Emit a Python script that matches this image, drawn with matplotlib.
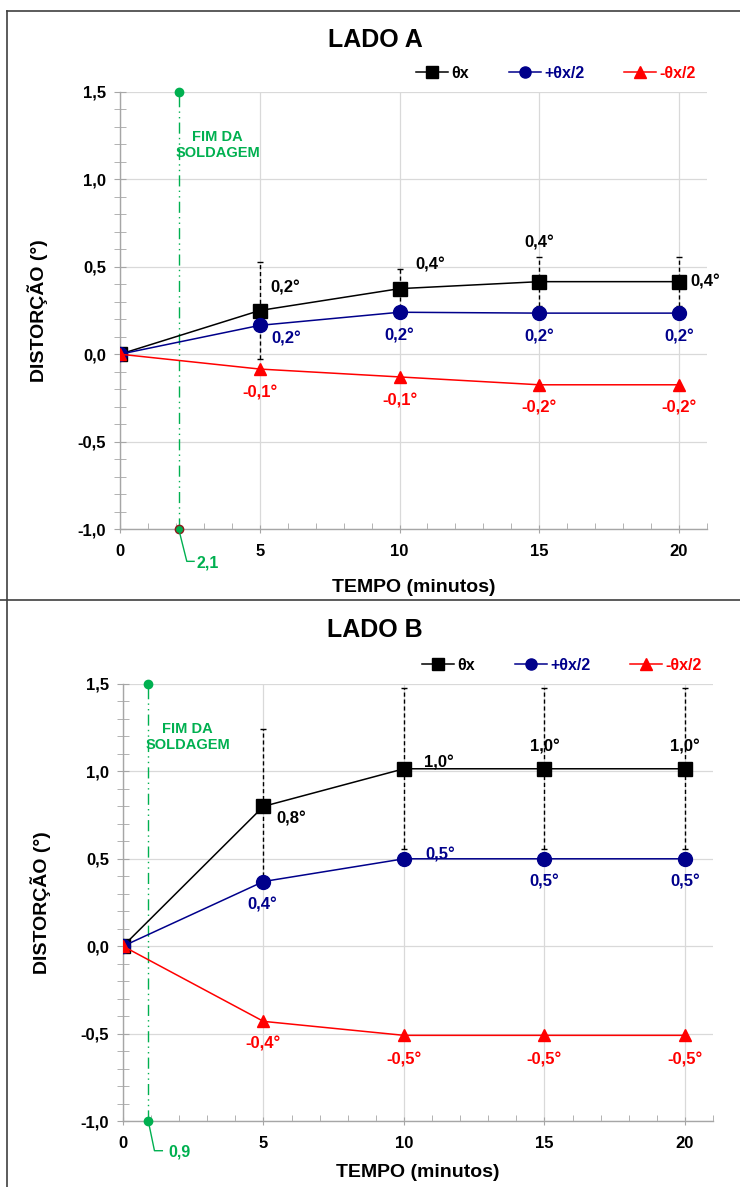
import matplotlib
matplotlib.use("Agg")
import matplotlib.pyplot as plt
from matplotlib.ticker import MultipleLocator, FuncFormatter
from matplotlib.lines import Line2D

plt.rcParams['font.family'] = ['Liberation Sans', 'DejaVu Sans']
plt.rcParams['font.weight'] = 'bold'

# ---------------- data ----------------
tempo = [0, 5, 10, 15, 20]

# LADO A
a_theta = [0.0, 0.25, 0.375, 0.415, 0.415]
a_theta_err = [0.0, 0.275, 0.11, 0.14, 0.14]
a_plus = [0.0, 0.165, 0.24, 0.235, 0.235]
a_minus = [0.0, -0.085, -0.13, -0.175, -0.175]
a_theta_lbl = ["", "0,2°", "0,4°", "0,4°", "0,4°"]
a_plus_lbl = ["", "0,2°", "0,2°", "0,2°", "0,2°"]
a_minus_lbl = ["", "-0,1°", "-0,1°", "-0,2°", "-0,2°"]
a_fim = 2.1
a_fim_lbl = "2,1"

# LADO B
b_theta = [0.0, 0.80, 1.015, 1.015, 1.015]
b_theta_err = [0.0, 0.44, 0.46, 0.46, 0.46]
b_plus = [0.0, 0.37, 0.50, 0.50, 0.50]
b_minus = [0.0, -0.43, -0.51, -0.51, -0.51]
b_theta_lbl = ["", "0,8°", "1,0°", "1,0°", "1,0°"]
b_plus_lbl = ["", "0,4°", "0,5°", "0,5°", "0,5°"]
b_minus_lbl = ["", "-0,4°", "-0,5°", "-0,5°", "-0,5°"]
b_fim = 0.9
b_fim_lbl = "0,9"

series_names = ["θx", "+θx/2", "-θx/2"]
titles = ["LADO A", "LADO B"]

BLACK = "#000000"
BLUE = "#00008B"
RED = "#FF0000"
GREEN = "#00B050"
GRID = "#D9D9D9"
AXC = "#A6A6A6"

W, H = 740, 1187
fig = plt.figure(figsize=(W / 100, H / 100), dpi=100)

def fx(px):
    return px / W

def fy(py):
    return 1 - py / H

# border lines
fig.add_artist(Line2D([fx(7), fx(7)], [fy(11), fy(1187)], color="#404040", lw=1.2))
fig.add_artist(Line2D([fx(7), fx(740)], [fy(11), fy(11)], color="#404040", lw=1.2))
fig.add_artist(Line2D([fx(0), fx(740)], [fy(600), fy(600)], color="#404040", lw=1.2))

def comma(v, pos):
    return ("%.1f" % v).replace(".", ",")

def make_panel(rect, title, title_y, theta, err, plus, minus, tl, pl, ml,
               fim, fim_lbl, offsets, edge_dark, lead, xpad):
    ax = fig.add_axes(rect)
    ax.set_xlim(0, 21)
    ax.set_ylim(-1.0, 1.5)
    ax.xaxis.set_major_locator(MultipleLocator(5))
    ax.xaxis.set_minor_locator(MultipleLocator(1))
    ax.yaxis.set_major_locator(MultipleLocator(0.5))
    ax.yaxis.set_minor_locator(MultipleLocator(0.1))
    ax.yaxis.set_major_formatter(FuncFormatter(comma))
    ax.grid(True, which="major", color=GRID, lw=0.9)
    ax.set_axisbelow(True)
    for s in ["top", "right"]:
        ax.spines[s].set_visible(False)
    for s in ["left", "bottom"]:
        ax.spines[s].set_color(AXC)
        ax.spines[s].set_linewidth(1.0)
    ax.tick_params(axis="y", which="both", direction="inout", length=8,
                   color=AXC, labelsize=12, pad=6)
    ax.tick_params(axis="x", which="major", direction="inout", length=6,
                   color=AXC, labelsize=12, pad=8)
    ax.tick_params(axis="x", which="minor", direction="in", length=4, color=AXC)
    for lab in ax.get_xticklabels() + ax.get_yticklabels():
        lab.set_fontweight("bold")

    ax.set_xlabel("TEMPO (minutos)", fontsize=14, fontweight="bold", labelpad=xpad)
    ax.set_ylabel("DISTORÇÃO (°)", fontsize=14, fontweight="bold", labelpad=21)

    # green fim line
    ax.plot([fim, fim], [-1.0, 1.5], color=GREEN, lw=1.0, ls=(0, (8, 3, 1, 3, 1, 3)),
            zorder=2, clip_on=False)
    ax.plot([fim], [1.5], "o", color=GREEN, ms=6, zorder=6, clip_on=False)
    ax.plot([fim], [-1.0], "o", color=GREEN, ms=6, mec=("#8B1A1A" if edge_dark else GREEN),
            mew=1.0, zorder=6, clip_on=False)
    ax.text(fim + 1.4, 1.197, "FIM DA\nSOLDAGEM", color=GREEN, fontsize=10.5,
            fontweight="bold", ha="center", va="center", multialignment="center",
            linespacing=1.15)
    lx1, ly1, lx2, tx = lead
    ax.plot([fim, fim + lx1, fim + lx2], [-1.0, ly1, ly1], color=GREEN, lw=1.0,
            clip_on=False, zorder=6)
    ax.text(fim + tx, ly1 - 0.01, fim_lbl, color=GREEN, fontsize=11.5,
            fontweight="bold", ha="left", va="center")

    # error bars
    eb = ax.errorbar(tempo[1:], theta[1:], yerr=err[1:], fmt="none", ecolor=BLACK,
                     elinewidth=1.0, capsize=2, capthick=1.0, zorder=3)
    for c in eb.lines[2]:
        c.set_linestyle((0, (3, 2)))

    ax.plot(tempo, theta, color=BLACK, lw=1.1, marker="s", ms=10, zorder=4,
            label=series_names[0])
    ax.plot(tempo, plus, color=BLUE, lw=1.1, marker="o", ms=10, zorder=4,
            label=series_names[1])
    ax.plot(tempo, minus, color=RED, lw=1.1, marker="^", ms=9, zorder=5,
            label=series_names[2])

    for i in range(1, len(tempo)):
        for vals, lbls, col, key in [(theta, tl, BLACK, "t"), (plus, pl, BLUE, "p"),
                                     (minus, ml, RED, "m")]:
            dx, dy = offsets[key][i]
            ax.text(tempo[i] + dx, vals[i] + dy, lbls[i], color=col, fontsize=12,
                    fontweight="bold", ha="center", va="center", zorder=7)

    leg = ax.legend(loc="lower right", bbox_to_anchor=(1.0, 1.0), ncol=3, frameon=False,
                    handlelength=2.0, columnspacing=2.5,
                    handletextpad=0.2, borderaxespad=0.3,
                    labelcolor=[BLACK, BLUE, RED], prop={"weight": "bold", "size": 11.5})
    for h in leg.legend_handles:
        h.set_markersize(8)
    fig.text(fx(375), title_y, title, fontsize=18,
             fontweight="bold", ha="center", va="center")
    return ax

offsets_a = {
    "t": [None, (0.9, 0.13), (1.1, 0.138), (0.0, 0.22), (0.95, 0.0)],
    "p": [None, (0.95, -0.078), (0.0, -0.138), (0.0, -0.135), (0.0, -0.135)],
    "m": [None, (0.0, -0.135), (0.0, -0.135), (0.0, -0.135), (0.0, -0.135)],
}
offsets_b = {
    "t": [None, (1.0, -0.07), (1.25, 0.035), (0.0, 0.123), (0.0, 0.123)],
    "p": [None, (-0.05, -0.133), (1.3, 0.02), (0.0, -0.13), (0.0, -0.13)],
    "m": [None, (0.0, -0.127), (0.0, -0.138), (0.0, -0.138), (0.0, -0.138)],
}

axA = make_panel([fx(120), fy(529), fx(707) - fx(120), fy(92) - fy(529)], titles[0], fy(40),
                 a_theta, a_theta_err, a_plus, a_minus, a_theta_lbl, a_plus_lbl, a_minus_lbl,
                 a_fim, a_fim_lbl, offsets_a, True, (0.29, -1.185, 0.55, 0.65), 14)
axB = make_panel([fx(123), fy(1121), fx(713) - fx(123), fy(684) - fy(1121)], titles[1], fy(630),
                 b_theta, b_theta_err, b_plus, b_minus, b_theta_lbl, b_plus_lbl, b_minus_lbl,
                 b_fim, b_fim_lbl, offsets_b, False, (0.22, -1.17, 0.5, 0.7), 9)

fig.savefig("out.png", dpi=100, facecolor="white")
